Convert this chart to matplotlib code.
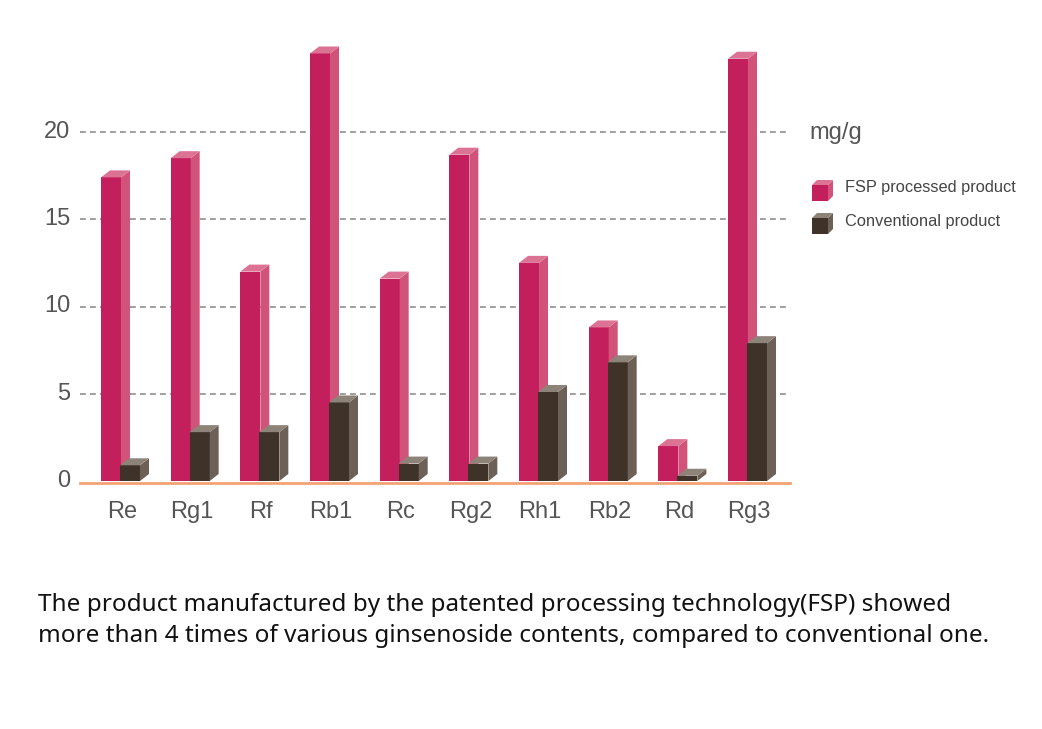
import matplotlib
matplotlib.use("Agg")
import matplotlib.pyplot as plt
from matplotlib.patches import Polygon
import numpy as np

categories = ["Re", "Rg1", "Rf", "Rb1", "Rc", "Rg2", "Rh1", "Rb2", "Rd", "Rg3"]
fsp_values = [17.4, 18.5, 12.0, 24.5, 11.6, 18.7, 12.5, 8.8, 2.0, 24.2]
conv_values = [0.9, 2.8, 2.8, 4.5, 1.0, 1.0, 5.1, 6.8, 0.3, 7.9]
y_ticks = [0, 5, 10, 15, 20]
legend_labels = ["FSP processed product", "Conventional product"]
unit_label = "mg/g"
caption_lines = ["The product manufactured by the patented processing technology(FSP) showed",
                 "more than 4 times of various ginsenoside contents, compared to conventional one."]

LBL_FONT = ["Liberation Sans", "DejaVu Sans"]

W, H = 1042, 729
fig = plt.figure(figsize=(W / 100, H / 100), dpi=100)

px_per_unit = 17.45
y0_px = 481
ymax = 26
ax_left, ax_right = 80, 790
ax = fig.add_axes([ax_left / W, 1 - y0_px / H, (ax_right - ax_left) / W, ymax * px_per_unit / H])
ax.set_xlim(-0.646, 9.545)
ax.set_ylim(0, ymax)
ax.set_axis_off()

unit_px = 69.7
bw = 20 / unit_px
dx = 9 / unit_px
dy = 7 / px_per_unit

pink = ("#C31F5D", "#D25379", "#DC7394")
dark = ("#3E3229", "#6C6057", "#8E8379")

x = np.arange(len(categories))

# gridlines
for t in y_ticks[1:]:
    ax.plot([-0.646, 9.545], [t, t], color="#8f8f8f", lw=1.2, ls=(0, (3.5, 2.5)), zorder=0)
for t in y_ticks:
    ax.text(-0.646 - 10 / unit_px, t, str(t), ha="right", va="center",
            fontsize=17, color="#555555", family=LBL_FONT)


def bar3d(x0, v, cols, z):
    ax.bar([x0], [v], width=bw, align="edge", color=cols[0], lw=0, zorder=z)
    side = Polygon([[x0 + bw, 0], [x0 + bw + dx, dy], [x0 + bw + dx, v + dy], [x0 + bw, v]],
                   closed=True, facecolor=cols[1], lw=0, zorder=z)
    top = Polygon([[x0, v], [x0 + bw, v], [x0 + bw + dx, v + dy], [x0 + dx, v + dy]],
                  closed=True, facecolor=cols[2], lw=0, zorder=z)
    ax.add_patch(side)
    ax.add_patch(top)


for i in range(len(categories)):
    bar3d(x[i] - 24 / unit_px, fsp_values[i], pink, 2 + 2 * i)
    bar3d(x[i] - 5 / unit_px, conv_values[i], dark, 3 + 2 * i)
    ax.text(x[i] - 3 / unit_px, -1.75, categories[i], ha="center", va="center",
            fontsize=17, color="#555555", family=LBL_FONT)

ax.plot([-0.646, 9.545], [-0.1, -0.1], color="#F4A274", lw=2, zorder=40, clip_on=False)

# overlay for legend & caption
ov = fig.add_axes([0, 0, 1, 1])
ov.set_xlim(0, W)
ov.set_ylim(H, 0)
ov.set_axis_off()
ov.patch.set_alpha(0)

ov.text(809, 133, unit_label, ha="left", va="center", fontsize=17, color="#555555",
        family=LBL_FONT)


def cube(xp, yp, cols):
    s = 16
    d = 5
    ov.add_patch(Polygon([[xp, yp], [xp + s, yp], [xp + s, yp - s], [xp, yp - s]], facecolor=cols[0], lw=0))
    ov.add_patch(Polygon([[xp + s, yp], [xp + s + d, yp - d], [xp + s + d, yp - s - d], [xp + s, yp - s]],
                         facecolor=cols[1], lw=0))
    ov.add_patch(Polygon([[xp, yp - s], [xp + s, yp - s], [xp + s + d, yp - s - d], [xp + d, yp - s - d]],
                         facecolor=cols[2], lw=0))


cube(812, 201, pink)
cube(812, 234, dark)
ov.text(845, 187, legend_labels[0], ha="left", va="center", fontsize=11.8, color="#444444",
        family=LBL_FONT)
ov.text(845, 221, legend_labels[1], ha="left", va="center", fontsize=11.8, color="#444444",
        family=LBL_FONT)

for k, line in enumerate(caption_lines):
    ov.text(38, 605 + 31 * k, line, ha="left", va="center", fontsize=17.5, color="#111111",
            family=["Noto Sans", "DejaVu Sans"])

fig.savefig("out.png", dpi=100)
